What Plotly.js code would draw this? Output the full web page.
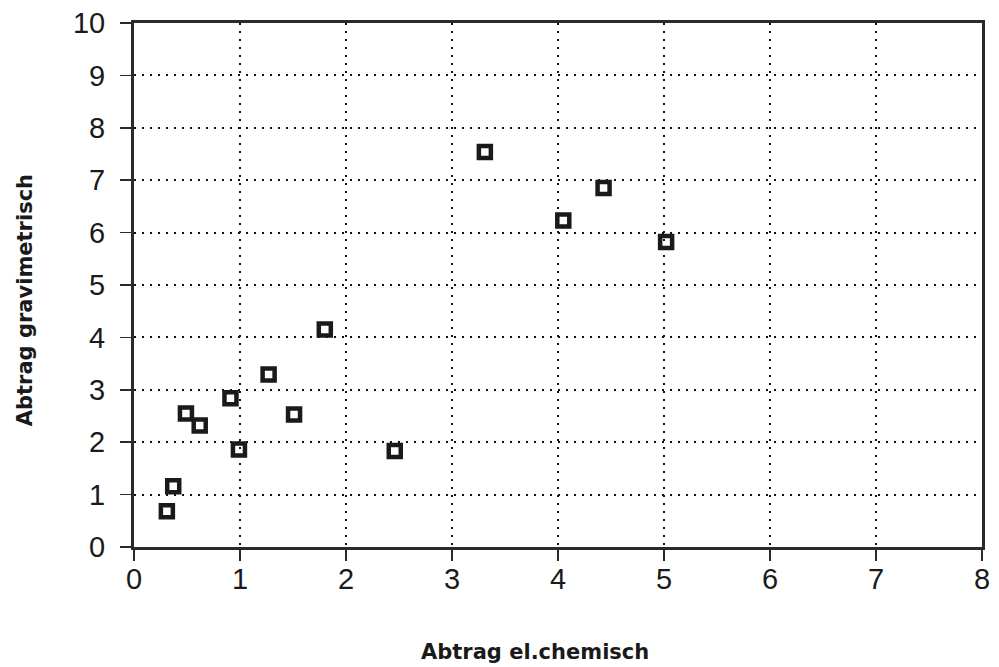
<!DOCTYPE html>
<html>
<head>
<meta charset="utf-8">
<script src="https://cdn.plot.ly/plotly-3.0.1.min.js"></script>
<style>html,body{margin:0;padding:0;background:#fff;}#chart{width:999px;height:667px;}</style>
</head>
<body>
<div id="chart"></div>
<script>
const abtragElChemisch = [0.31, 0.37, 0.49, 0.62, 0.91, 0.99, 1.27, 1.51, 1.80, 2.46, 3.31, 4.05, 4.43, 5.02];
const abtragGravimetrisch = [0.68, 1.16, 2.55, 2.32, 2.84, 1.86, 3.29, 2.53, 4.15, 1.83, 7.54, 6.23, 6.85, 5.82];
const xTicks = [0, 1, 2, 3, 4, 5, 6, 7, 8];
const yTicks = [0, 1, 2, 3, 4, 5, 6, 7, 8, 9, 10];
const xTitle = "Abtrag el.chemisch";
const yTitle = "Abtrag gravimetrisch";

const tickFont = {family: "Liberation Sans, Arial, sans-serif", size: 29, color: "#1a1a1a"};
const titleFont = {family: "DejaVu Sans, sans-serif", size: 21, color: "#1a1a1a", weight: "bold"};
const axisCommon = {
  showline: true, linecolor: "#2a2a2a", linewidth: 3, mirror: true,
  showgrid: true, gridcolor: "#111", griddash: "2px,6px", gridwidth: 2,
  zeroline: false, ticks: "outside", ticklen: 11, tickcolor: "#2a2a2a", tickwidth: 1.5,
  tickfont: tickFont, fixedrange: true
};

const trace = {
  x: abtragElChemisch, y: abtragGravimetrisch, type: "scatter", mode: "markers",
  marker: {symbol: "square-open", size: 12, color: "#1a1a1a", line: {width: 4.5, color: "#1a1a1a"}},
  hoverinfo: "skip", showlegend: false
};

const layout = {
  width: 999, height: 667,
  margin: {l: 134, r: 17, t: 23, b: 120},
  paper_bgcolor: "#fff", plot_bgcolor: "#fff",
  xaxis: Object.assign({}, axisCommon, {range: [0, 8], tickvals: xTicks, ticktext: xTicks.map(String), ticklabelstandoff: -7}),
  yaxis: Object.assign({}, axisCommon, {range: [0, 10], tickvals: yTicks, ticktext: yTicks.map(String), ticklabelstandoff: 9}),
  annotations: [
    {text: xTitle, xref: "paper", yref: "paper", x: 0.473, y: -0.2, xanchor: "center", yanchor: "middle",
     showarrow: false, font: titleFont},
    {text: yTitle, xref: "paper", yref: "paper", x: -0.1285, y: 0.471, xanchor: "center", yanchor: "middle",
     textangle: -90, showarrow: false, font: titleFont}
  ]
};

Plotly.newPlot("chart", [trace], layout, {displayModeBar: false, staticPlot: true});
</script>
</body>
</html>
